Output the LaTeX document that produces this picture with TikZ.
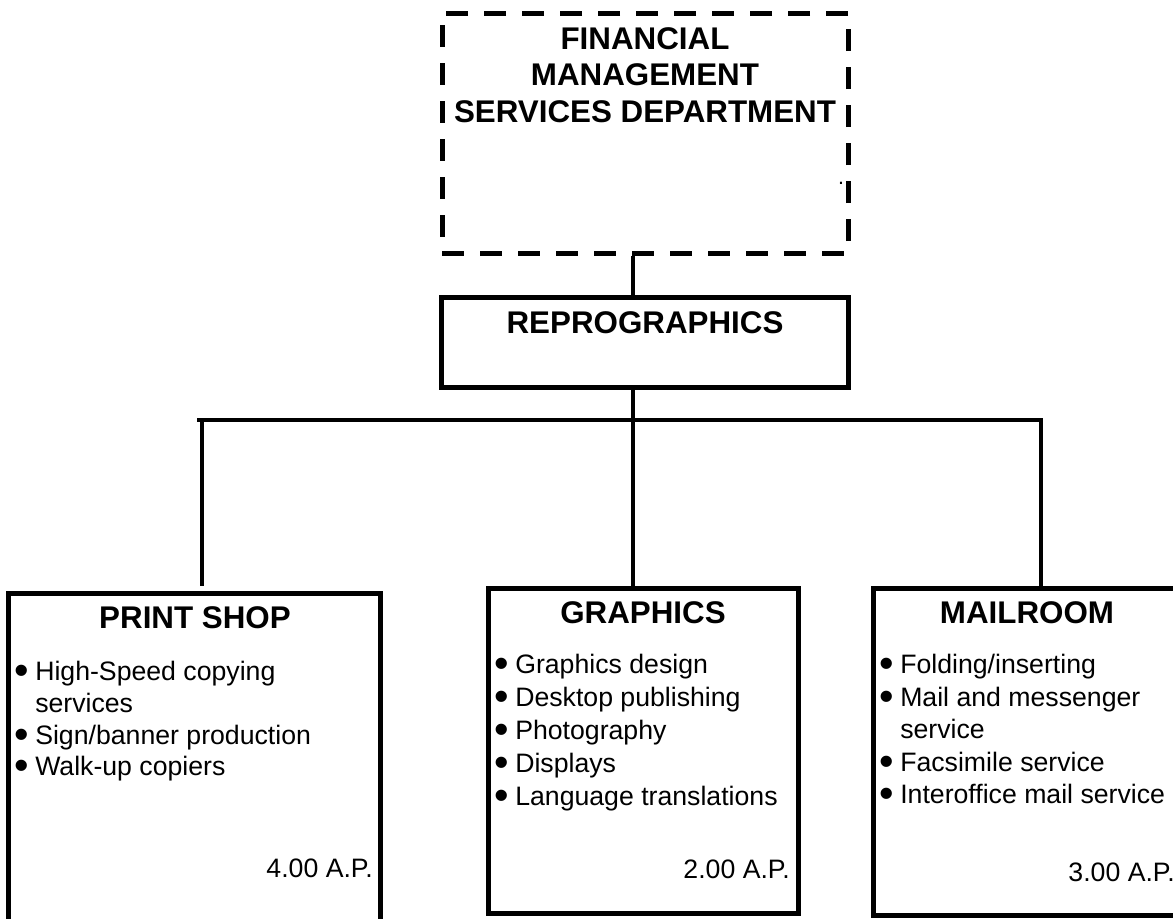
\documentclass[tikz,border=0pt]{standalone}
\usepackage{fontspec}
\setmainfont{Liberation Sans}
\usetikzlibrary{fit}
% bullet with a hanging indent for list items
\newcommand{\itm}{\makebox[15.75pt][l]{\smash{\raisebox{-0.15em}{\scalebox{1.55}{•}}}}}
\newcommand{\itmgap}{\hspace*{15.75pt}}
\begin{document}
\begin{tikzpicture}[x=0.75pt,y=-0.75pt,
  box/.style={draw, line width=3.75pt, inner sep=0pt},
  dbox/.style={box, dash pattern=on 16.5pt off 12pt},
  link/.style={line width=3.5pt},
  title/.style={font=\bfseries\fontsize{23.5}{27.4}\selectfont, inner sep=0pt},
  items/.style={font=\fontsize{20}{24.4}\selectfont, align=left, inner sep=0pt, anchor=north west},
  ap/.style={font=\fontsize{20}{24}\selectfont, inner sep=0pt, anchor=base east}]
\useasboundingbox (0,0) rectangle (1173,918);
\clip (0,0) rectangle (1173,918);

% boxes
\node[dbox, fit={(442,13) (848,253)}] (fin) {};
\node[box, fit={(441,297) (848,387)}] (rep) {};
\node[box, fit={(8,593) (380,945)}] (ps) {};
\node[box, fit={(488,588) (798,913)}] (gr) {};
\node[box, fit={(873,588) (1181,915)}] (mr) {};

% titles
\node[title, anchor=north, align=center] (fintext) at (645,27)
  {FINANCIAL\\MANAGEMENT\\SERVICES DEPARTMENT};
\node[font=\fontsize{16}{16}\selectfont, inner sep=0pt] (mark) at (841,183) {.};
\node[title] (reptext) at (645,323) {REPROGRAPHICS};
\node[title] (pstitle) at (195,618) {PRINT SHOP};
\node[title] (grtitle) at (643,613) {GRAPHICS};
\node[title] (mrtitle) at (1027,613) {MAILROOM};

% service lists
\node[items, font=\fontsize{20}{23.8}\selectfont] (psitems) at (14,661)
  {\itm High-Speed copying\\\itmgap services\\\itm Sign/banner production\\\itm Walk-up copiers};
\node[items, font=\fontsize{20}{24.75}\selectfont] (gritems) at (494,654)
  {\itm Graphics design\\\itm Desktop publishing\\\itm Photography\\\itm Displays\\\itm Language translations};
\node[items] (mritems) at (879,654)
  {\itm Folding/inserting\\\itm Mail and messenger\\\itmgap service\\\itm Facsimile service\\\itm Interoffice mail service};

% staffing figures
\node[ap] (psap) at (373,877) {4.00 A.P.};
\node[ap] (grap) at (790,878) {2.00 A.P.};
\node[ap] (mrap) at (1175,881) {3.00 A.P.};

% connectors
\coordinate (hub) at (633,420);
\coordinate (barL) at (197,420);
\coordinate (barR) at (1043,420);
\coordinate (dropL) at (202,420);
\coordinate (dropR) at (1041,420);
\draw[link] (fin.south -| hub) -- (rep.north -| hub);
\draw[link] (rep.south -| hub) -- (hub);
\draw[link] (barL) -- (barR);
\draw[link, shorten >=3.75pt] (dropL) -- (dropL |- ps.north);
\draw[link] (hub) -- (hub |- gr.north);
\draw[link] (dropR) -- (dropR |- mr.north);
\end{tikzpicture}
\end{document}
